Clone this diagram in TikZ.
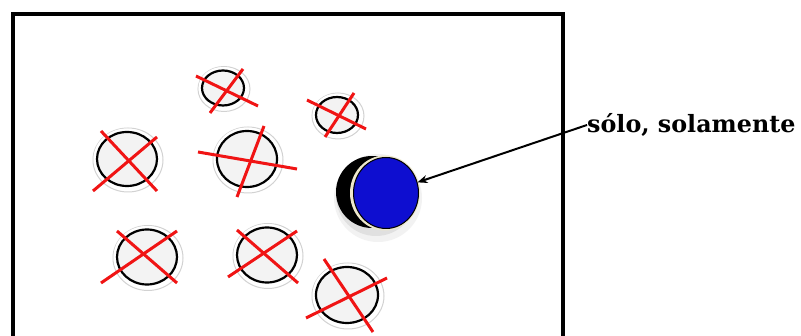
\documentclass[tikz,border=0pt]{standalone}
\usepackage{fontspec}
\setmainfont{DejaVu Serif}
\usetikzlibrary{shapes.geometric,arrows.meta}
\definecolor{disc}{RGB}{243,243,243}
\definecolor{halo}{RGB}{210,210,210}
\definecolor{btnblue}{RGB}{14,14,208}
\definecolor{cream}{RGB}{238,232,205}
\definecolor{xred}{RGB}{240,20,20}
\tikzset{
  coin/.style={ellipse, draw=black, line width=2.2pt, fill=disc, inner sep=0pt},
  halo/.style={draw=halo, line width=1pt, fill=white},
  cross/.style={draw=xred, line width=3pt},
  frame/.style={draw=black, line width=3.4pt},
}
\begin{document}
\begin{tikzpicture}[x=1pt,y=-1pt]
\useasboundingbox (0,0) rectangle (801,336);
\clip (0,0) rectangle (801,336);
\fill[white] (0,0) rectangle (801,336);
% frame
\draw[frame] (13,345) -- (13,14) -- (563,14) -- (563,345);
% coins: halo, disc
\foreach \n/\x/\y/\rx/\ry in {a/223/88/21/17.5, b/337/115/21/18, c/127/159/30/27, d/247/159/30/28, e/147/257/30/27.5, f/267/255/30/27.5, g/347/295/31/28}{
  \fill[halo] (\x+1,\y+1) ellipse ({\rx+5} and {\ry+5});
  \fill[white] (\x,\y) ellipse ({\rx+3.5} and {\ry+3.5});
  \node[coin, minimum width=2*\rx, minimum height=2*\ry] (\n) at (\x,\y) {};
}
% crosses
\draw[cross] (196,76) -- (258,106); \draw[cross] (243,69) -- (210,113);
\draw[cross] (307,100) -- (366,129); \draw[cross] (354,93) -- (325,137);
\draw[cross] (101,131) -- (157,191); \draw[cross] (157,137) -- (93,191);
\draw[cross] (198,152) -- (297,169); \draw[cross] (264,126) -- (237,197);
\draw[cross] (117,231) -- (177,283); \draw[cross] (177,231) -- (101,283);
\draw[cross] (237,230) -- (298,283); \draw[cross] (297,231) -- (228,277);
\draw[cross] (324,259) -- (373,332); \draw[cross] (387,278) -- (306,318);
% blue button
\fill[black!5] (378,198) ellipse (44 and 44);
\fill[black!12] (376,196) ellipse (40 and 40);
\fill[black] (372,192) ellipse (36 and 36);
\fill[cream] (385,193) ellipse (35 and 37.5);
\node[ellipse, draw=black, line width=1pt, fill=btnblue, minimum width=65, minimum height=71, inner sep=0pt] (btn) at (386,193) {};
% label and arrow
\node[anchor=west, inner sep=0pt, font=\bfseries\fontsize{23.8}{28}\selectfont] (lbl) at (587,125) {sólo, solamente};
\draw[line width=2pt, -{Stealth[length=10pt,width=8pt]}] (lbl.west) -- (btn);
\end{tikzpicture}
\end{document}
